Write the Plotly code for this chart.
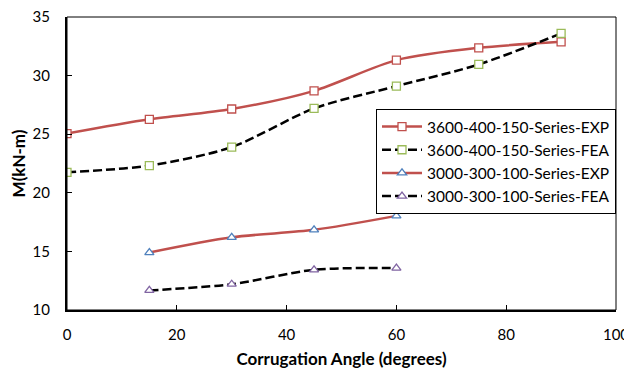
import plotly.graph_objects as go

x_3600 = [0, 15, 30, 45, 60, 75, 90]
exp_3600 = [25.05, 26.27, 27.15, 28.7, 31.32, 32.37, 32.88]
fea_3600 = [21.75, 22.32, 23.9, 27.2, 29.1, 30.95, 33.6]

x_3000 = [15, 30, 45, 60]
exp_3000 = [14.9, 16.2, 16.84, 18.03]
fea_3000 = [11.67, 12.2, 13.43, 13.58]

names = ["3600-400-150-Series-EXP", "3600-400-150-Series-FEA",
         "3000-300-100-Series-EXP", "3000-300-100-Series-FEA"]

FONT = "Lato"
fig = go.Figure()

def add(x, y, name, lcolor, dash, msym, mcolor):
    fig.add_trace(go.Scatter(
        x=x, y=y, name=name, mode="lines+markers",
        line=dict(color=lcolor, width=2.5, dash=dash, shape="spline", smoothing=0.8),
        marker=dict(symbol=msym, size=8, color="white",
                    line=dict(color=mcolor, width=1.3)),
    ))

add(x_3600, exp_3600, names[0], "#C0504D", "solid", "square", "#C0504D")
add(x_3600, fea_3600, names[1], "black", "9px,4px", "square", "#9BBB59")
add(x_3000, exp_3000, names[2], "#C0504D", "solid", "triangle-up", "#4F81BD")
add(x_3000, fea_3000, names[3], "black", "9px,4px", "triangle-up", "#8064A2")

fig.add_shape(type="rect", xref="paper", yref="paper", x0=0, y0=0, x1=1, y1=1,
              line=dict(color="black", width=1), layer="above")

fig.update_layout(
    width=624, height=364,
    margin=dict(l=59, r=16, t=9, b=62, autoexpand=False),
    paper_bgcolor="white", plot_bgcolor="white",
    font=dict(family=FONT, size=15, color="black"),
    showlegend=True,
    legend=dict(x=1, xanchor="right", y=0.686, yanchor="top",
                bordercolor="black", borderwidth=1, bgcolor="white",
                font=dict(family=FONT, size=15.5), tracegroupgap=0, itemwidth=40),
    xaxis=dict(range=[0, 100], tickvals=[0, 20, 40, 60, 80, 100], automargin=False,
               showgrid=False, zeroline=False, showline=True, linecolor="black", linewidth=2,
               ticks="inside", ticklen=5, tickcolor="black", tickwidth=1, ticklabelstandoff=10,
               ticklabeloverflow="allow",
               title=dict(text="<b>Corrugation Angle (degrees)</b>", font=dict(size=17), standoff=11)),
    yaxis=dict(range=[10, 35], tickvals=[10, 15, 20, 25, 30, 35], automargin=False,
               showgrid=False, zeroline=False, showline=True, linecolor="black", linewidth=2,
               ticks="inside", ticklen=5, tickcolor="black", tickwidth=1, ticklabelstandoff=12,
               ticklabeloverflow="allow",
               title=dict(text="<b>M(kN-m)</b>", font=dict(size=17), standoff=22)),
)

fig.write_html("out.html")
